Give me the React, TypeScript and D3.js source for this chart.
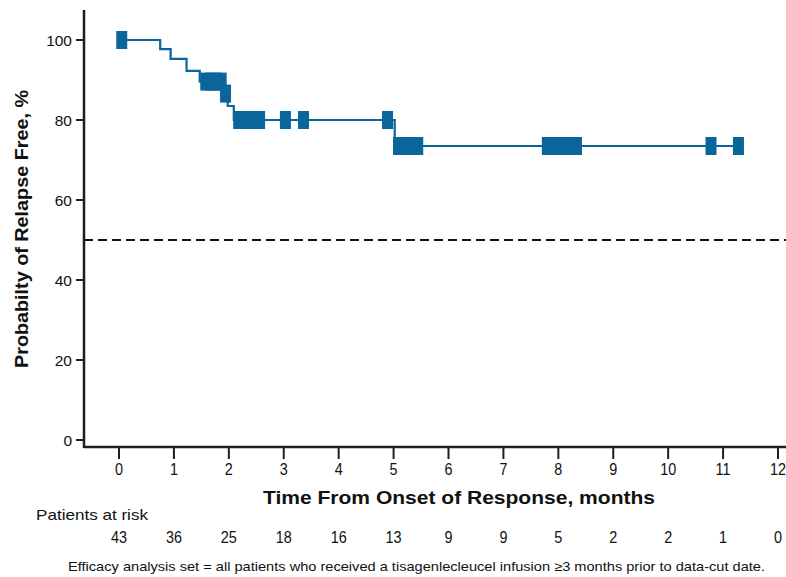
import * as d3 from "d3";

// Kaplan-Meier steps (months, % relapse free)
const stepTimes = [0, 0.75, 0.94, 1.23, 1.47, 1.9, 1.98, 2.09, 5.02];
const stepSurvival = [100, 97.7, 95.3, 92.3, 89.6, 86.6, 83.5, 80.0, 73.5];
const lastTime = 11.28;

// censored patients (months)
const censorTimes = [
  0.05, 1.58, 1.67, 1.76, 1.86, 1.94, 2.18, 2.3, 2.42, 2.56, 3.03, 3.36, 4.89,
  5.09, 5.19, 5.32, 5.44, 7.8, 7.94, 8.07, 8.19, 8.33, 10.78, 11.28,
];

const xTicks = [0, 1, 2, 3, 4, 5, 6, 7, 8, 9, 10, 11, 12];
const yTicks = [0, 20, 40, 60, 80, 100];
const atRisk = [43, 36, 25, 18, 16, 13, 9, 9, 5, 2, 2, 1, 0];

const width = 786;
const height = 577;
const color = "#0a659a";
const axisColor = "#1e1e1e";
const font = "'Liberation Sans', Arial, sans-serif";

const survivalAt = (t: number) => {
  let s = stepSurvival[0];
  stepTimes.forEach((st, i) => {
    if (t >= st) s = stepSurvival[i];
  });
  return s;
};

export default function App() {
  const x = d3.scaleLinear().domain([0, 12]).range([119, 778]);
  const y = d3.scaleLinear().domain([0, 100]).range([440, 40]);

  const pts: [number, number][] = stepTimes.map((t, i) => [t, stepSurvival[i]]);
  pts.push([lastTime, stepSurvival[stepSurvival.length - 1]]);

  const line = d3
    .line<[number, number]>()
    .x((d) => x(d[0]))
    .y((d) => y(d[1]))
    .curve(d3.curveStepAfter);

  const axisY = 447;
  const axisX = 84;

  return (
    <svg
      width={width}
      height={height}
      style={{ position: "absolute", left: 0, top: 0, background: "#fff" }}
      fontFamily={font}
    >
      {/* y axis */}
      <line x1={axisX} x2={axisX} y1={10} y2={axisY + 1} stroke={axisColor} strokeWidth={2.5} />
      {yTicks.map((t) => (
        <g key={t}>
          <line x1={axisX - 8} x2={axisX} y1={y(t)} y2={y(t)} stroke={axisColor} strokeWidth={2} />
          <text x={axisX - 12} y={y(t)} dy="0.36em" textAnchor="end" fontSize={15.5} fill="#111">
            {t}
          </text>
        </g>
      ))}
      <text
        transform="translate(28, 229) rotate(-90)"
        textAnchor="middle"
        fontSize={18}
        fontWeight="bold"
        fill="#111"
        textLength={278}
        lengthAdjust="spacingAndGlyphs"
      >
        Probabilty of Relapse Free, %
      </text>

      {/* x axis */}
      <line x1={axisX} x2={width} y1={axisY} y2={axisY} stroke={axisColor} strokeWidth={2.5} />
      {xTicks.map((t) => (
        <g key={t}>
          <line x1={x(t)} x2={x(t)} y1={axisY} y2={axisY + 12} stroke={axisColor} strokeWidth={2} />
          <text x={x(t)} y={475} textAnchor="middle" fontSize={16} fill="#111" transform={`translate(${x(t) * 0.1}, 0) scale(0.9, 1)`}>
            {t}
          </text>
        </g>
      ))}
      <text
        x={459}
        y={504}
        textAnchor="middle"
        fontSize={19}
        fontWeight="bold"
        fill="#111"
        textLength={392}
        lengthAdjust="spacingAndGlyphs"
      >
        Time From Onset of Response, months
      </text>

      {/* patients at risk */}
      <text x={36} y={520} fontSize={15} fill="#111" textLength={112} lengthAdjust="spacingAndGlyphs">
        Patients at risk
      </text>
      {atRisk.map((n, i) => (
        <text
          key={i}
          x={x(xTicks[i])}
          y={543}
          textAnchor="middle"
          fontSize={16}
          fill="#111"
          transform={`translate(${x(xTicks[i]) * 0.1}, 0) scale(0.9, 1)`}
        >
          {n}
        </text>
      ))}

      <text x={68} y={571} fontSize={13} fill="#111" textLength={697} lengthAdjust="spacingAndGlyphs">
        Efficacy analysis set = all patients who received a tisagenlecleucel infusion ≥3 months prior to data-cut date.
      </text>

      {/* reference line at 50% */}
      <line
        x1={axisX}
        x2={width}
        y1={y(50)}
        y2={y(50)}
        stroke="#111"
        strokeWidth={2}
        strokeDasharray="9,5"
      />

      {/* KM curve */}
      <path d={line(pts) ?? ""} fill="none" stroke={color} strokeWidth={2.2} />
      {censorTimes.map((t, i) => (
        <rect
          key={i}
          x={x(t) - 5.5}
          y={y(survivalAt(t)) - 9}
          width={11}
          height={18}
          fill={color}
        />
      ))}
    </svg>
  );
}
